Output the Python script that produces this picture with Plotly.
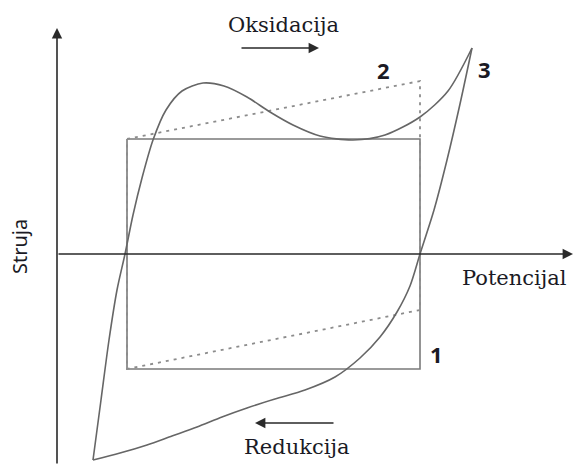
import plotly.graph_objects as go

# schematic in image-like coordinates (x right, y down), 574 x 465
# upper (oxidation) branch of curve 3
up_x = [93, 101, 109, 117, 125, 133, 142, 153, 166, 182, 203, 224, 247, 270, 293, 320, 353, 385, 420, 448, 472]
up_y = [460, 400, 340, 290, 254, 215, 178, 140, 110, 91, 83, 86, 97, 112, 125, 136, 140, 135, 117, 91, 48]
# lower (reduction) branch of curve 3
down_x = [472, 460, 447, 434, 420, 410, 397, 380, 360, 335, 305, 275, 247, 222, 197, 172, 147, 120, 93]
down_y = [48, 104, 160, 210, 254, 286, 312, 337, 358, 377, 390, 399, 408, 417, 427, 436, 445, 453, 460]
# curve 1 (ideal capacitor) and curve 2 (resistive)
rect_x = [127, 420, 420, 127, 127]
rect_y = [139, 139, 369, 369, 139]
para_x = [127, 420, 420, 127, 127]
para_y = [139, 81, 310, 369, 139]

labels = ["1", "2", "3"]
label_x = [436, 383, 484]
label_y = [354, 70, 69]

SERIF = "DejaVu Serif"
INK = "#1a1a24"

fig = go.Figure()
fig.add_trace(go.Scatter(x=rect_x, y=rect_y, mode="lines",
                         line=dict(color="#7a7a7a", width=1.6)))
fig.add_trace(go.Scatter(x=para_x, y=para_y, mode="lines",
                         line=dict(color="#8c8c8c", width=1.8, dash="3px,5px")))
fig.add_trace(go.Scatter(x=up_x, y=up_y, mode="lines",
                         line=dict(color="#666666", width=1.6, shape="spline", smoothing=0.8)))
fig.add_trace(go.Scatter(x=down_x, y=down_y, mode="lines",
                         line=dict(color="#666666", width=1.6, shape="spline", smoothing=0.8)))

# axes with arrowheads
arrows = [
    dict(x=57, y=28, ax=57, ay=465),      # current axis
    dict(x=573, y=254, ax=57, ay=254),    # potential axis
    dict(x=319, y=48, ax=240, ay=48),     # oxidation arrow
    dict(x=255, y=423, ax=335, ay=423),   # reduction arrow
]
for a in arrows:
    fig.add_annotation(x=a["x"], y=a["y"], ax=a["ax"], ay=a["ay"],
                       xref="x", yref="y", axref="x", ayref="y",
                       showarrow=True, arrowhead=2, arrowsize=1.3,
                       arrowwidth=1.6, arrowcolor="#2a2a2a", text="")

fig.add_annotation(x=283, y=25, text="Oksidacija", showarrow=False,
                   font=dict(family=SERIF, size=21, color=INK))
fig.add_annotation(x=296, y=447, text="Redukcija", showarrow=False,
                   font=dict(family=SERIF, size=21, color=INK))
fig.add_annotation(x=514, y=278, text="Potencijal", showarrow=False,
                   font=dict(family=SERIF, size=21, color=INK))
fig.add_annotation(x=19, y=247, text="Struja", showarrow=False, textangle=-90,
                   font=dict(family="Noto Sans", size=20, color=INK))
for t, lx, ly in zip(labels, label_x, label_y):
    fig.add_annotation(x=lx, y=ly, text="<b>" + t + "</b>", showarrow=False,
                       font=dict(family="Noto Sans", size=22, color=INK))

fig.update_layout(
    width=574, height=465,
    margin=dict(l=0, r=0, t=0, b=0),
    paper_bgcolor="white", plot_bgcolor="white",
    showlegend=False,
    xaxis=dict(range=[0, 574], visible=False, fixedrange=True),
    yaxis=dict(range=[465, 0], visible=False, fixedrange=True),
)

# drop the default body margin so the figure sits at the page corner
fig.write_html("out.html", config={"displayModeBar": False},
               post_script="document.body.style.margin='0';")
